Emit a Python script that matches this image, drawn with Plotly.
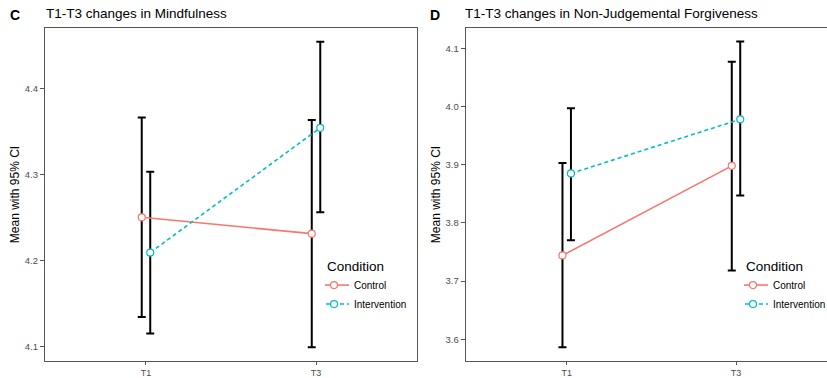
import plotly.graph_objects as go

# Time points and groups
timepoints = ["T1", "T3"]
groups = ["Control", "Intervention"]

# Panel C: Mindfulness (mean with 95% CI)
mind_control_mean = [4.250, 4.231]
mind_control_lo = [4.134, 4.099]
mind_control_hi = [4.366, 4.363]
mind_interv_mean = [4.209, 4.354]
mind_interv_lo = [4.115, 4.256]
mind_interv_hi = [4.303, 4.454]

# Panel D: Non-Judgemental Forgiveness (mean with 95% CI)
njf_control_mean = [3.744, 3.898]
njf_control_lo = [3.586, 3.718]
njf_control_hi = [3.903, 4.077]
njf_interv_mean = [3.885, 3.978]
njf_interv_lo = [3.770, 3.847]
njf_interv_hi = [3.997, 4.112]

W, H = 827, 378
FONT = "Arial, Liberation Sans, sans-serif"
COLORS = {"Control": "#F8766D", "Intervention": "#00BFC4"}
DASHES = {"Control": "solid", "Intervention": "4px,3px"}
DODGE = {"Control": -0.025, "Intervention": 0.025}

fig = go.Figure()


def add_panel(xa, ya, legend_name, series):
    # error bars first so lines and points sit on top
    for name, (mean, lo, hi) in series.items():
        xs = [i + 1 + DODGE[name] for i in range(len(timepoints))]
        fig.add_trace(go.Scatter(
            x=xs, y=mean, mode="markers", xaxis=xa, yaxis=ya,
            marker=dict(size=1, color="rgba(0,0,0,0)"),
            error_y=dict(type="data", symmetric=False,
                         array=[h - m for h, m in zip(hi, mean)],
                         arrayminus=[m - l for m, l in zip(mean, lo)],
                         color="black", thickness=2, width=4),
            showlegend=False, hoverinfo="skip"))
    for name, (mean, lo, hi) in series.items():
        xs = [i + 1 + DODGE[name] for i in range(len(timepoints))]
        fig.add_trace(go.Scatter(
            x=xs, y=mean, mode="lines+markers", name=name,
            xaxis=xa, yaxis=ya, legend=legend_name,
            line=dict(color=COLORS[name], width=1.6, dash=DASHES[name]),
            marker=dict(symbol="circle", size=7, color="white",
                        line=dict(color=COLORS[name], width=1.2))))


add_panel("x", "y", "legend", {
    "Control": (mind_control_mean, mind_control_lo, mind_control_hi),
    "Intervention": (mind_interv_mean, mind_interv_lo, mind_interv_hi),
})
add_panel("x2", "y2", "legend2", {
    "Control": (njf_control_mean, njf_control_lo, njf_control_hi),
    "Intervention": (njf_interv_mean, njf_interv_lo, njf_interv_hi),
})

# plot area spans y = 28..361 px; the y ranges below are set for that span
y_dom = [1 - 361 / H, 1 - 28 / H]
axis_common = dict(showgrid=False, zeroline=False, showline=True,
                   linecolor="#555555", linewidth=1.2,
                   ticks="outside", tickcolor="#555555")

yfont = dict(family=FONT, size=9.5, color="#4D4D4D")
xtick = dict(tickmode="array", tickvals=[1, 2], ticktext=timepoints, ticklen=3,
             tickfont=dict(family=FONT, size=9, color="#4D4D4D"))
ytitle = dict(text="Mean with 95% CI", standoff=2,
              font=dict(family=FONT, size=12, color="black"))


def legend_box(x_px):
    return dict(x=x_px / W, y=1 - 253 / H, xanchor="left", yanchor="top",
                title=dict(text="Condition", font=dict(size=13.5, family=FONT)),
                font=dict(size=10, family=FONT), indentation=-11,
                bgcolor="rgba(0,0,0,0)", itemwidth=30)


fig.update_layout(
    width=W, height=H,
    margin=dict(l=0, r=0, t=0, b=0, autoexpand=False),
    paper_bgcolor="white", plot_bgcolor="white",
    font=dict(family=FONT, color="black"),
    xaxis=dict(domain=[45 / W, 417 / W], range=[0.406, 2.594],
               anchor="y", mirror=True, **xtick, **axis_common),
    yaxis=dict(domain=y_dom, range=[4.083, 4.470], anchor="x",
               mirror=True, tickvals=[4.1, 4.2, 4.3, 4.4], tickformat=".1f",
               ticklen=4, tickfont=yfont, title=ytitle, **axis_common),
    xaxis2=dict(domain=[465.7 / W, 1.0], range=[0.4034, 2.5375],
                anchor="y2", mirror=True, **xtick, **axis_common),
    yaxis2=dict(domain=y_dom, range=[3.5625, 4.135], anchor="x2",
                mirror=False, tickvals=[3.6, 3.7, 3.8, 3.9, 4.0, 4.1],
                tickformat=".1f", ticklen=4, tickfont=yfont, title=ytitle,
                **axis_common),
    legend=legend_box(325),
    legend2=legend_box(744),
    annotations=[
        dict(text="<b>C</b>", x=8 / W, y=1 - 15 / H, xref="paper", yref="paper",
             xanchor="left", yanchor="middle", showarrow=False,
             font=dict(family=FONT, size=14, color="black")),
        dict(text="T1-T3 changes in Mindfulness", x=44 / W, y=1 - 14 / H,
             xref="paper", yref="paper", xanchor="left", yanchor="middle",
             showarrow=False, font=dict(family=FONT, size=13.5, color="black")),
        dict(text="<b>D</b>", x=428 / W, y=1 - 15 / H, xref="paper", yref="paper",
             xanchor="left", yanchor="middle", showarrow=False,
             font=dict(family=FONT, size=14, color="black")),
        dict(text="T1-T3 changes in Non-Judgemental Forgiveness", x=463 / W,
             y=1 - 14 / H, xref="paper", yref="paper", xanchor="left",
             yanchor="middle", showarrow=False,
             font=dict(family=FONT, size=13.5, color="black")),
    ],
)

fig.write_html("out.html")
